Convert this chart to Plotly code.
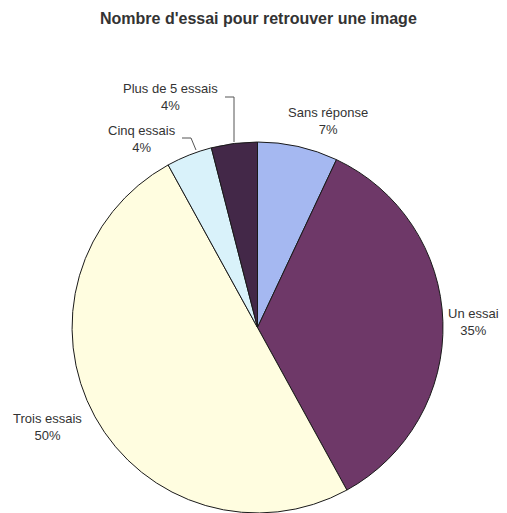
import plotly.graph_objects as go

# the page body adds an 8px margin, so the figure is drawn 8px in and sized to fit
OFF = 8
W, H = 507 - 2 * OFF, 513 - OFF

categories = ["Sans réponse", "Un essai", "Trois essais", "Cinq essais", "Plus de 5 essais"]
percents = [7, 35, 50, 4, 4]
colors = ["#A5B8F1", "#6E3868", "#FFFDE0", "#D9F2FA", "#432848"]

# label placement in screen pixels (centre of the two-line label)
label_pos = {
    "Sans réponse": (328, 121, "center"),
    "Un essai": (499, 322, "right"),
    "Trois essais": (47, 427, "center"),
    "Cinq essais": (142, 139, "center"),
    "Plus de 5 essais": (170, 97, "center"),
}


def px(x, y):
    return (x - OFF) / W, 1 - (y - OFF) / H


fig = go.Figure(
    go.Pie(
        labels=categories,
        values=percents,
        sort=False,
        direction="clockwise",
        rotation=0,
        textinfo="none",
        hoverinfo="label+percent",
        marker=dict(colors=colors, line=dict(color="#1a1a1a", width=1)),
        domain=dict(x=[(64.5 - OFF) / W, (450.5 - OFF) / W], y=[0, 1 - (142 - OFF) / H]),
        showlegend=False,
    )
)

font = dict(family="Liberation Sans, Arial", size=13, color="#333333")

for name, pct in zip(categories, percents):
    lx, ly, anchor = label_pos[name]
    x, y = px(lx, ly)
    fig.add_annotation(
        x=x, y=y, xref="paper", yref="paper",
        text=f"{name}<br>{pct}%",
        showarrow=False,
        xanchor=anchor, yanchor="middle",
        borderpad=0, borderwidth=0,
        font=font,
    )

# leader lines for the two small slices
leaders = [
    [(225, 97), (234, 97), (234, 142)],
    [(182, 138), (191, 138), (196, 150)],
]
for pts in leaders:
    for (x0, y0), (x1, y1) in zip(pts[:-1], pts[1:]):
        a0, b0 = px(x0, y0)
        a1, b1 = px(x1, y1)
        fig.add_shape(
            type="line", xref="paper", yref="paper",
            x0=a0, y0=b0, x1=a1, y1=b1,
            line=dict(color="#555555", width=1),
        )

tx, ty = px(258, 18)
fig.add_annotation(
    x=tx, y=ty, xref="paper", yref="paper",
    text="<b>Nombre d'essai pour retrouver une image</b>",
    showarrow=False, xanchor="center", yanchor="middle",
    font=dict(family="Liberation Sans, Arial", size=16, color="#333333"),
)

fig.update_layout(
    width=W,
    height=H,
    margin=dict(l=0, r=0, t=0, b=0),
    paper_bgcolor="white",
    plot_bgcolor="white",
)

fig.write_html("out.html")
